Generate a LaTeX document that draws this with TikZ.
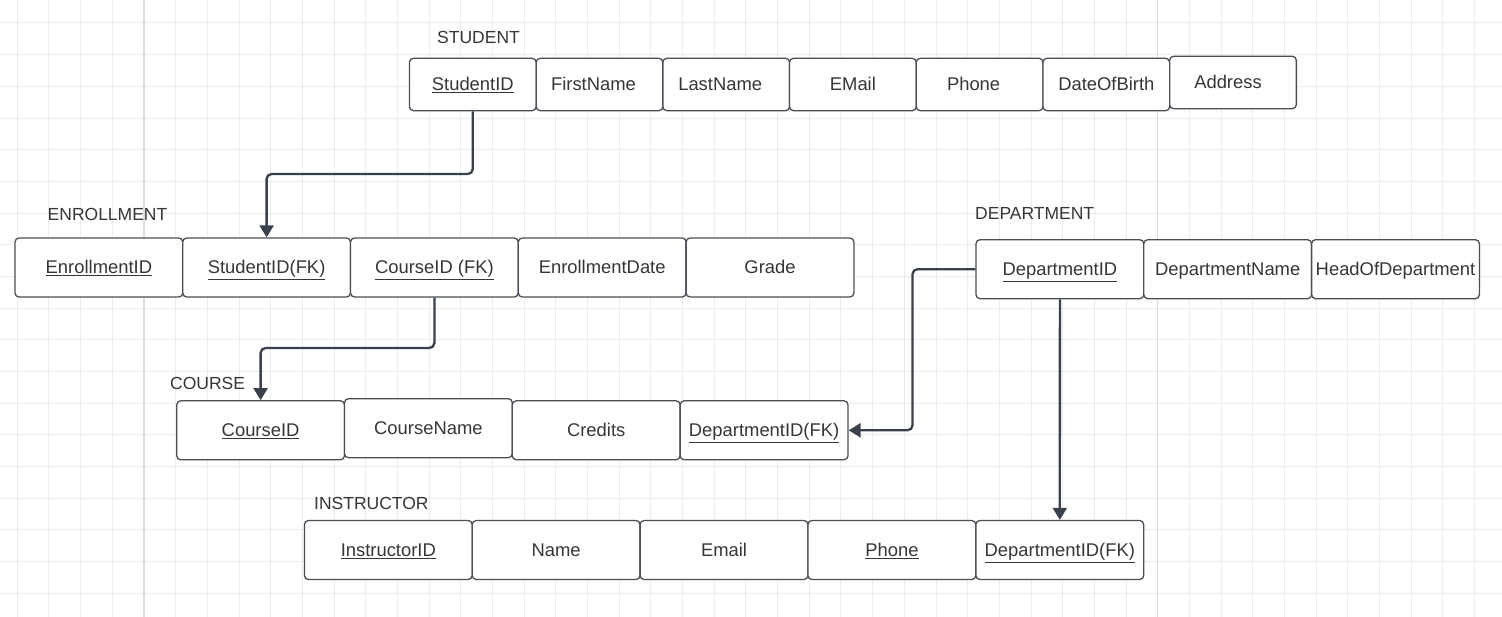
\documentclass[tikz,border=0pt]{standalone}
\usepackage{fontspec}
\setmainfont{Liberation Sans}
\usetikzlibrary{arrows.meta}
\definecolor{gridminor}{HTML}{ECECEC}
\definecolor{gridmajor}{HTML}{DCDCDC}
\definecolor{boxline}{HTML}{4A4F57}
\definecolor{arrowc}{HTML}{3A414D}
\definecolor{txt}{HTML}{363636}
\newcommand{\ulx}[1]{\underline{#1}}
\tikzset{
  gridline/.style={draw=gridminor, line width=1pt},
  gridmaj/.style={draw=gridmajor, line width=1.6pt},
  cellbox/.style={draw=boxline, line width=1.3pt, rounded corners=4pt, fill=white,
    inner sep=0pt, text=txt, text height=16.5pt, text depth=3.5pt,
    font=\fontsize{18.4}{21}\selectfont},
  stucell/.style={cellbox, minimum width=126.7pt, minimum height=52.4pt},
  widecell/.style={cellbox, minimum width=167.8pt, minimum height=59pt},
  entlabel/.style={text=txt, inner sep=0pt, anchor=base west},
  fk/.style={draw=arrowc, line width=2.3pt, rounded corners=5pt,
    -{Triangle[width=14pt,length=12pt]}}
}
\begin{document}
\begin{tikzpicture}[x=1pt,y=-1pt,font=\fontsize{17.5}{20}\selectfont]
\useasboundingbox (0,0) rectangle (1502,617);
\fill[white] (0,0) rectangle (1502,617);
% grid
\foreach \i in {0,...,46} {\draw[gridline] ({17.3+31.68*\i},0) -- ({17.3+31.68*\i},617);}
\foreach \j in {0,...,18} {\draw[gridline] (0,{23+31.68*\j}) -- (1502,{23+31.68*\j});}
\draw[gridmaj] (144,0) -- (144,617);
\draw[gridmaj] (1157.5,0) -- (1157.5,617);

% STUDENT
\node[entlabel] (lstu) at (437,44) {STUDENT};
\node[stucell] (stuid) at (472.8,84.5) {\ulx{StudentID}};
\node[stucell] (stufn) at (599.5,84.5) {\hspace{-12pt}FirstName};
\node[stucell] (stuln) at (726.2,84.5) {\hspace{-12pt}LastName};
\node[stucell] (stuem) at (852.9,84.5) {EMail};
\node[stucell] (stuph) at (979.6,84.5) {\hspace{-12pt}Phone};
\node[stucell] (studob) at (1106.3,84.5) {DateOfBirth};
\node[stucell] (stuad) at (1233,82.5) {\hspace{-10pt}Address};

% ENROLLMENT
\node[entlabel] (lenr) at (47.5,220.5) {ENROLLMENT};
\node[widecell] (enid) at (98.9,267.5) {\ulx{EnrollmentID}};
\node[widecell] (enstu) at (266.6,267.5) {\ulx{StudentID(FK)}};
\node[widecell] (encid) at (434.4,267.5) {\ulx{CourseID (FK)}};
\node[widecell] (endate) at (602.2,267.5) {EnrollmentDate};
\node[widecell] (engr) at (770,267.5) {Grade};

% DEPARTMENT
\node[entlabel] (ldep) at (975,220) {DEPARTMENT};
\node[widecell] (deptid) at (1059.9,269.2) {\ulx{DepartmentID}};
\node[widecell] (deptnm) at (1227.7,269.2) {DepartmentName};
\node[widecell] (depthd) at (1395.5,269.2) {HeadOfDepartment};

% COURSE
\node[entlabel] (lcrs) at (170,390) {COURSE};
\node[widecell] (crsid) at (260.6,430.3) {\ulx{CourseID}};
\node[widecell] (crsnm) at (428.4,428.2) {CourseName};
\node[widecell] (crscr) at (596.2,430.3) {Credits};
\node[widecell] (crsdep) at (764.1,430.3) {\ulx{DepartmentID(FK)}};

% INSTRUCTOR
\node[entlabel] (lins) at (314,509) {INSTRUCTOR};
\node[widecell] (insid) at (388.3,550) {\ulx{InstructorID}};
\node[widecell] (insnm) at (556.1,550) {Name};
\node[widecell] (insem) at (724,550) {Email};
\node[widecell] (insph) at (891.9,550) {\ulx{Phone}};
\node[widecell] (insdep) at (1059.8,550) {\ulx{DepartmentID(FK)}};

% connectors
\draw[fk] (stuid.south) -- (stuid.south |- 0,174) -| (enstu.north);
\draw[fk] (encid.south) -- (encid.south |- 0,348) -| (crsid.north);
\draw[fk] (deptid.west) -- (912.5,269.2) |- (crsdep.east);
\draw[fk] (deptid.south) -- (insdep.north);
\end{tikzpicture}
\end{document}
